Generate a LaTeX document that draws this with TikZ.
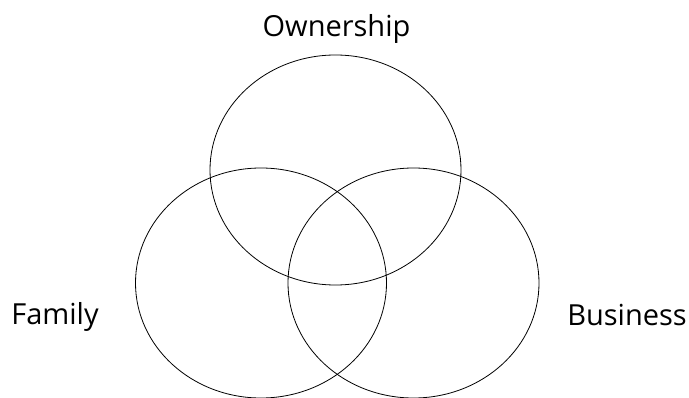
\documentclass[tikz,border=0pt]{standalone}
\usepackage{fontspec}
\setmainfont{Open Sans}
\usetikzlibrary{shapes.geometric, positioning}

\tikzset{
  ring/.style={draw, ellipse, line width=0.8pt, minimum width=251pt, minimum height=230pt, inner sep=0pt},
  label/.style={font=\fontsize{29}{34}\selectfont, inner sep=0pt, anchor=base}
}

\begin{document}
\begin{tikzpicture}[x=1pt, y=1pt]
            \useasboundingbox (0,0) rectangle (689,397);
            % Lingkaran
            \node[ring] (own) at (335.5, 227) {};
            \node[ring] (fam) at (261, 114) {};
            \node[ring] (bus) at (413.5, 114) {};

            % Label
            \node[label] (ownlbl) at (336.5, 360) {Ownership};
            \node[label] (famlbl) at (55, 73) {Family};
            \node[label] (buslbl) at (627, 72) {Business};
        \end{tikzpicture}
\end{document}
